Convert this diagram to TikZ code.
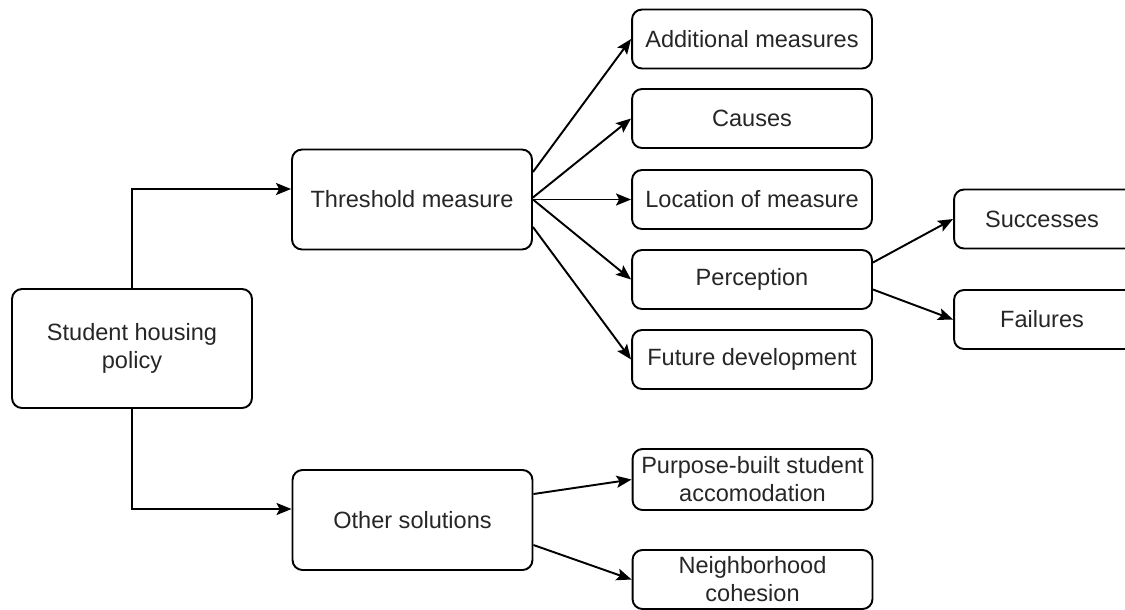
\documentclass[tikz,border=0pt]{standalone}
\usepackage{fontspec}
\setmainfont{Liberation Sans}
\usetikzlibrary{arrows.meta,calc}

\begin{document}
\begin{tikzpicture}[x=0.02cm, y=-0.02cm,
  every node/.style={font=\fontsize{13.4}{16}\selectfont, text=black!85},
  box/.style={draw, line width=1.1pt, rounded corners=0.2cm, align=center,
    minimum width=4.8cm, minimum height=1.18cm, inner sep=1pt},
  bigbox/.style={box, minimum height=2cm},
  link/.style={line width=1.1pt, -{Stealth[length=0.3cm, width=0.24cm, inset=0.06cm]}}]

  \useasboundingbox (0,0) rectangle (1125,609);

  % Root
  \node[bigbox, minimum height=2.38cm] (shp) at (132,348.5) {Student housing\\policy};

  % Second level
  \node[bigbox] (thr) at (412,199.5) {Threshold measure};
  \node[bigbox] (oth) at (412.5,520) {Other solutions};

  % Threshold measure branches
  \node[box] (add) at (752,39) {Additional measures};
  \node[box] (cau) at (752,118.5) {Causes};
  \node[box] (loc) at (752,199.5) {Location of measure};
  \node[box] (per) at (752,279.5) {Perception};
  \node[box] (fut) at (752,359.5) {Future development};

  % Perception branches (cut at the right border)
  \node[box, minimum width=4.2cm] (suc) at (1059,219) {\hspace*{-0.68cm}Successes};
  \node[box, minimum width=4.2cm] (fai) at (1059,319.5) {\hspace*{-0.68cm}Failures};

  % Other solutions branches
  \node[box, minimum height=1.22cm] (pbs) at (752.5,479.5) {Purpose-built student\\accomodation};
  \node[box] (nei) at (752.5,579.5) {Neighborhood\\cohesion};

  % Elbow links from the root
  \draw[link] (shp.north) |- ($(thr.west)+(0,-10.5)$);
  \draw[link] (shp.south) |- ($(oth.west)+(0,-11)$);

  % Fan out of threshold measure
  \draw[link] ($(thr.east)+(0,-27.5)$) -- (add.west);
  \draw[link] ($(thr.east)+(0,-2)$) -- (cau.west);
  \draw[link] (thr.east) -- (loc.west);
  \draw[link] (thr.east) -- (per.west);
  \draw[link] ($(thr.east)+(0,27.5)$) -- (fut.west);

  % Perception
  \draw[link] ($(per.east)+(0,-17)$) -- (suc.west);
  \draw[link] ($(per.east)+(0,10)$) -- (fai.west);

  % Other solutions
  \draw[link] ($(oth.east)+(0,-26)$) -- (pbs.west);
  \draw[link] ($(oth.east)+(0,25)$) -- (nei.west);

\end{tikzpicture}
\end{document}
